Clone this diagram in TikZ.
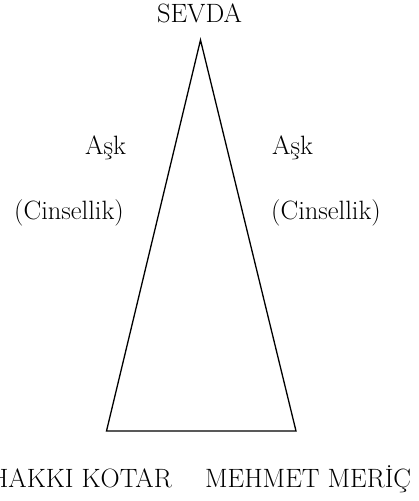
\documentclass[tikz,border=0pt]{standalone}
\usepackage{tikz}
\usetikzlibrary{positioning}
\begin{document}
\begin{tikzpicture}[x=1pt,y=1pt, font=\fontsize{26.5}{30}\selectfont,
    etiket/.style={inner sep=0pt, anchor=base},
    kenar/.style={line width=1.3pt, line join=miter, black}]
  \useasboundingbox (0,0) rectangle (419,501);
  \coordinate (tepe) at (200.5,461);
  \coordinate (solalt) at (106.5,70);
  \coordinate (sagalt) at (296,70);
  \draw[kenar] (tepe) -- (solalt) -- (sagalt) -- cycle;
  \node[etiket] (sevda) at (199.5,478.3) {SEVDA};
  \node[etiket] (askSol) at (105.5,346) {Aşk};
  \node[etiket] (cinsSol) at (69,281) {(Cinsellik)};
  \node[etiket] (askSag) at (292.5,346) {Aşk};
  \node[etiket] (cinsSag) at (326,281) {(Cinsellik)};
  \node[etiket, anchor=base east] (hakki) at (172,13) {HAKKI KOTAR};
  \node[etiket, anchor=base west] (mehmet) at (205,13) {MEHMET MERİÇ};
\end{tikzpicture}
\end{document}
